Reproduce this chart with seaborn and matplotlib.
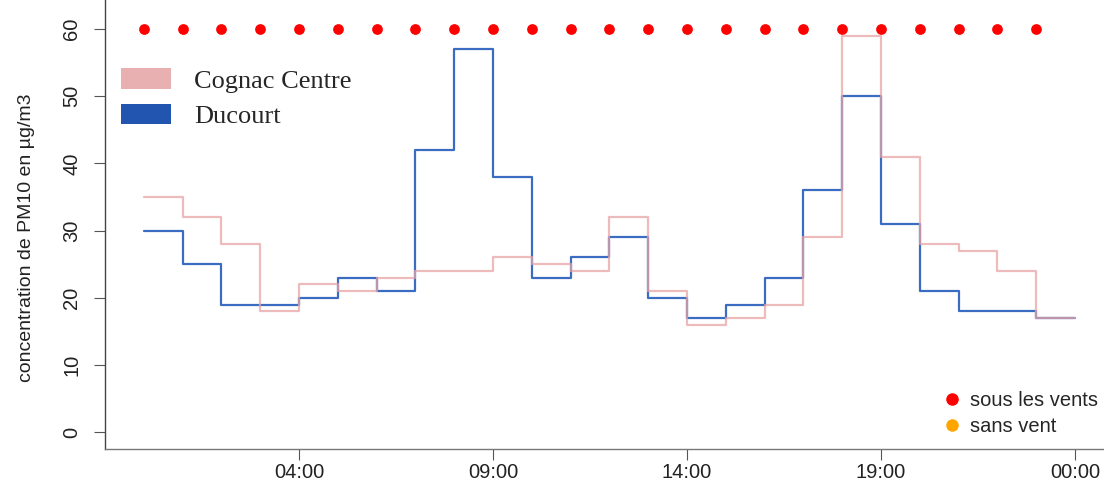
import numpy as np
import pandas as pd
import seaborn as sns
import matplotlib.pyplot as plt
from matplotlib.patches import Patch
from matplotlib.lines import Line2D

# hourly PM10 (µg/m3), hour 0 = 00:00
hours = list(range(24))
ducourt = [30, 25, 19, 19, 20, 23, 21, 42, 57, 38, 23, 26,
           29, 20, 17, 19, 23, 36, 50, 31, 21, 18, 18, 17]
cognac = [35, 32, 28, 18, 22, 21, 23, 24, 24, 26, 25, 24,
          32, 21, 16, 17, 19, 29, 59, 41, 28, 27, 24, 17]
wind_level = [60] * 24  # "sous les vents" markers
xtick_pos = [4, 9, 14, 19, 24]
xtick_labels = ["04:00", "09:00", "14:00", "19:00", "00:00"]
ytick_pos = [0, 10, 20, 30, 40, 50, 60]

sns.set_style("white")
plt.rcParams['font.family'] = ['Liberation Sans', 'DejaVu Sans']

# step plot needs the closing edge of the last hour
df = pd.DataFrame({
    'hour': hours + [24],
    'Ducourt': ducourt + [ducourt[-1]],
    'Cognac Centre': cognac + [cognac[-1]],
})

fig = plt.figure(figsize=(11.04, 4.97), dpi=100)
ax = fig.add_axes([0.0951, 0.0966, 0.9138, 0.9127])

sns.lineplot(data=df, x='hour', y='Ducourt', ax=ax, drawstyle='steps-post',
             color='#3a6cc2', linewidth=1.6, zorder=2)
sns.lineplot(data=df, x='hour', y='Cognac Centre', ax=ax, drawstyle='steps-post',
             color='#e8a4a4', linewidth=1.6, alpha=0.75, zorder=3)
sns.scatterplot(x=hours, y=wind_level, ax=ax, color='#ff0000', s=60,
                linewidth=0, zorder=4)

ax.set_xlim(-1, 25)
ax.set_ylim(-2.5, 65)
ax.set_xticks(xtick_pos)
ax.set_xticklabels(xtick_labels)
ax.set_yticks(ytick_pos)
ax.set_yticklabels([str(v) for v in ytick_pos], rotation=90, va='center')
ax.tick_params(axis='both', direction='out', length=8, width=0.8,
               color='#555555', labelcolor='#222222', labelsize=14.5,
               left=True, bottom=True)
ax.tick_params(axis='x', pad=2)
ax.tick_params(axis='y', pad=9)

for s in ['top', 'right']:
    ax.spines[s].set_visible(False)
ax.spines['left'].set_color('#444444')
ax.spines['bottom'].set_color('#777777')
for s in ['left', 'bottom']:
    ax.spines[s].set_linewidth(1.0)

ax.set_xlabel('')
ax.set_ylabel('concentration de PM10 en µg/m3', fontsize=14, color='#222222')
ax.yaxis.set_label_coords(-0.069, 0.465)

# station legend (upper left)
handles = [Patch(facecolor='#e8b0b0', edgecolor='none', label='Cognac Centre'),
           Patch(facecolor='#2255b0', edgecolor='none', label='Ducourt')]
leg1 = ax.legend(handles=handles, loc='upper left',
                 bbox_to_anchor=(121 / 1104, 0.863),
                 bbox_transform=fig.transFigure, borderaxespad=0, borderpad=0,
                 frameon=False, handlelength=1.9, handleheight=0.83,
                 handletextpad=0.87, labelspacing=0.42,
                 prop={'family': 'Liberation Serif', 'size': 19})
ax.add_artist(leg1)

# wind legend (lower right)
wind_handles = [Line2D([], [], marker='o', linestyle='none', color='#ff0000',
                       markersize=8, label='sous les vents'),
                Line2D([], [], marker='o', linestyle='none', color='#ffa500',
                       markersize=8, label='sans vent')]
leg2 = ax.legend(handles=wind_handles, loc='upper left',
                 bbox_to_anchor=(933 / 1104, (497 - 380) / 497),
                 bbox_transform=fig.transFigure, borderaxespad=0,
                 frameon=True, fancybox=False, framealpha=1,
                 edgecolor='none', facecolor='white',
                 handlelength=0.8, handletextpad=0.5, borderpad=0.55,
                 labelspacing=0.35, prop={'size': 14.5})
leg2.set_zorder(2.4)

fig.savefig('out.png', dpi=100)
